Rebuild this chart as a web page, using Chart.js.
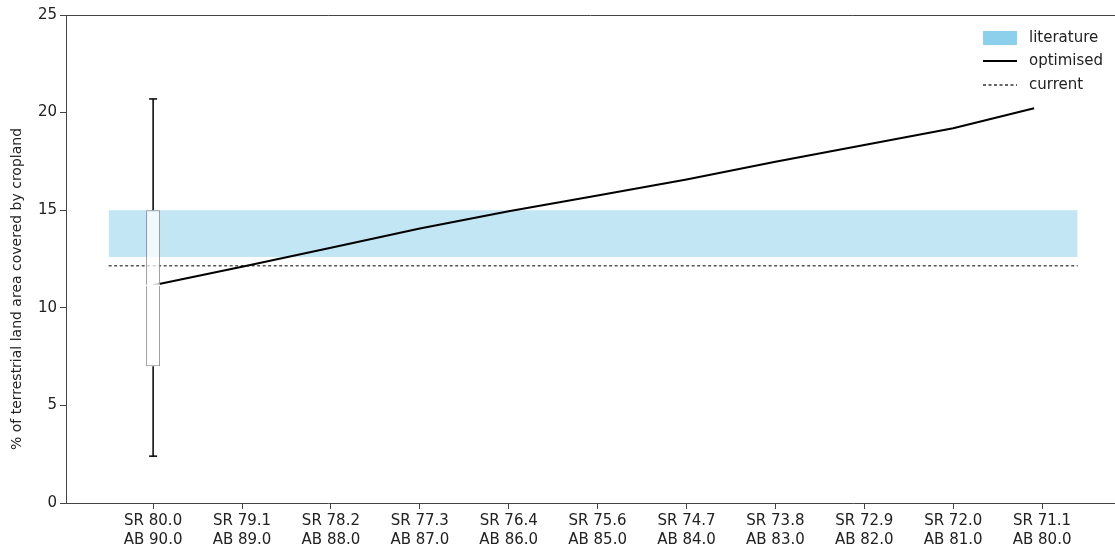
<!DOCTYPE html>
<html>
<head>
<meta charset="utf-8">
<script src="https://cdn.jsdelivr.net/npm/chart.js@4.4.1/dist/chart.umd.min.js"></script>
<style>
  html, body { margin: 0; padding: 0; background: #fff; }
  #wrap { width: 1115px; height: 552px; }
</style>
</head>
<body>
<div id="wrap"><canvas id="chart" width="1115" height="552"></canvas></div>
<script>
// x tick labels (two lines each)
var srLabels = ['SR 80.0', 'SR 79.1', 'SR 78.2', 'SR 77.3', 'SR 76.4', 'SR 75.6',
                'SR 74.7', 'SR 73.8', 'SR 72.9', 'SR 72.0', 'SR 71.1'];
var abLabels = ['AB 90.0', 'AB 89.0', 'AB 88.0', 'AB 87.0', 'AB 86.0', 'AB 85.0',
                'AB 84.0', 'AB 83.0', 'AB 82.0', 'AB 81.0', 'AB 80.0'];

// optimised scenario (x position, % cropland)
var optimisedX = [0, 1, 2, 3, 4, 5, 6, 7, 8, 9, 9.91];
var optimisedY = [11.15, 12.1, 13.08, 14.06, 14.95, 15.75, 16.57, 17.48, 18.34, 19.2, 20.22];

// literature range and current value
var literatureLow = 12.6;
var literatureHigh = 15.0;
var currentValue = 12.15;
var spanX = [-0.5, 10.4];

// box plot at first scenario
var boxX = 0;
var boxMin = 2.4;
var boxQ1 = 7.0;
var boxMedian = 11.15;
var boxQ3 = 15.0;
var boxMax = 20.7;

var legendLabels = ['literature', 'optimised', 'current'];
var yTitle = '% of terrestrial land area covered by cropland';

var FONT = "'DejaVu Sans', sans-serif";
var AXIS_COLOR = '#444';
var TEXT_COLOR = '#222';

function pts(xs, ys) {
    var out = [];
    for (var i = 0; i < xs.length; i++) out.push({x: xs[i], y: ys[i]});
    return out;
}

var extras = {
    id: 'extras',
    afterDraw: function (chart) {
        var ctx = chart.ctx, a = chart.chartArea;
        ctx.save();
        // top spine
        ctx.strokeStyle = AXIS_COLOR;
        ctx.lineWidth = 1;
        ctx.beginPath();
        ctx.moveTo(a.left, a.top + 0.5);
        ctx.lineTo(a.right, a.top + 0.5);
        ctx.stroke();

        // y axis title
        ctx.save();
        ctx.translate(17, 289);
        ctx.rotate(-Math.PI / 2);
        ctx.fillStyle = TEXT_COLOR;
        ctx.font = '14px ' + FONT;
        ctx.textAlign = 'center';
        ctx.textBaseline = 'middle';
        ctx.fillText(yTitle, 0, 0);
        ctx.restore();

        // legend inside the plot
        var x0 = 983, x1 = 1017, tx = 1029;
        var rows = [38, 61, 85];
        ctx.fillStyle = 'rgba(135,206,235,0.95)';
        ctx.fillRect(x0, rows[0] - 7, x1 - x0, 14);
        ctx.strokeStyle = '#000';
        ctx.lineWidth = 2;
        ctx.beginPath();
        ctx.moveTo(x0, rows[1]);
        ctx.lineTo(x1, rows[1]);
        ctx.stroke();
        ctx.strokeStyle = '#333';
        ctx.lineWidth = 1.5;
        ctx.setLineDash([3, 2.5]);
        ctx.beginPath();
        ctx.moveTo(x0, rows[2]);
        ctx.lineTo(x1, rows[2]);
        ctx.stroke();
        ctx.setLineDash([]);
        ctx.fillStyle = TEXT_COLOR;
        ctx.font = '15px ' + FONT;
        ctx.textBaseline = 'middle';
        ctx.textAlign = 'left';
        for (var i = 0; i < legendLabels.length; i++) {
            ctx.fillText(legendLabels[i], tx, rows[i]);
        }
        ctx.restore();
    }
};

var ctx = document.getElementById('chart');
new Chart(ctx, {
    type: 'scatter',
    data: {
        datasets: [
            {   // median
                type: 'scatter',
                data: [{x: boxX, y: boxMedian}],
                pointStyle: 'line',
                pointRadius: 7,
                borderColor: '#fff',
                backgroundColor: '#fff',
                borderWidth: 1.5,
                order: 0
            },
            {   // box
                type: 'bar',
                data: [{x: boxX, y: [boxQ1, boxQ3]}],
                backgroundColor: 'rgba(255,255,255,0.75)',
                borderColor: '#8a8a8a',
                borderWidth: 1,
                borderSkipped: false,
                grouped: false,
                maxBarThickness: 14,
                order: 1
            },
            {   // whiskers
                type: 'line',
                data: [{x: boxX, y: boxMin}, {x: boxX, y: boxQ1}, {x: boxX, y: null},
                       {x: boxX, y: boxQ3}, {x: boxX, y: boxMax}],
                borderColor: '#000',
                borderWidth: 1.5,
                pointRadius: 0,
                spanGaps: false,
                fill: false,
                order: 2
            },
            {   // caps
                type: 'scatter',
                data: [{x: boxX, y: boxMin}, {x: boxX, y: boxMax}],
                pointStyle: 'line',
                pointRadius: 4,
                borderColor: '#000',
                borderWidth: 1.5,
                order: 2
            },
            {
                type: 'line',
                label: 'optimised',
                data: pts(optimisedX, optimisedY),
                borderColor: '#000',
                borderWidth: 2,
                pointRadius: 0,
                tension: 0,
                fill: false,
                order: 3
            },
            {
                type: 'line',
                label: 'current',
                data: pts(spanX, [currentValue, currentValue]),
                borderColor: '#555',
                borderWidth: 1.5,
                borderDash: [3, 2.5],
                pointRadius: 0,
                fill: false,
                order: 4
            },
            {
                type: 'line',
                label: 'literature',
                data: pts(spanX, [literatureHigh, literatureHigh]),
                borderWidth: 0,
                borderColor: 'rgba(0,0,0,0)',
                backgroundColor: 'rgba(135,206,235,0.5)',
                pointRadius: 0,
                fill: '+1',
                order: 5
            },
            {
                type: 'line',
                data: pts(spanX, [literatureLow, literatureLow]),
                borderWidth: 0,
                borderColor: 'rgba(0,0,0,0)',
                pointRadius: 0,
                fill: false,
                order: 6
            }
        ]
    },
    options: {
        responsive: false,
        animation: false,
        layout: { autoPadding: false, padding: { top: 15, right: 0, left: 0, bottom: 0 } },
        plugins: {
            legend: { display: false },
            tooltip: { enabled: false }
        },
        scales: {
            x: {
                type: 'linear',
                min: -0.98,
                max: 10.82,
                offset: false,
                afterBuildTicks: function (scale) {
                    scale.ticks = srLabels.map(function (s, i) { return {value: i}; });
                },
                afterFit: function (scale) { scale.height = 49; },
                ticks: {
                    autoSkip: false,
                    maxRotation: 0,
                    padding: 2,
                    color: TEXT_COLOR,
                    font: { family: FONT, size: 15, lineHeight: 1.3 },
                    callback: function (v) {
                        var i = Math.round(v);
                        return [srLabels[i], abLabels[i]];
                    }
                },
                grid: { offset: false, drawOnChartArea: false, drawTicks: true, tickLength: 6, tickColor: AXIS_COLOR },
                border: { color: AXIS_COLOR, width: 1 }
            },
            y: {
                min: 0,
                max: 25,
                afterFit: function (scale) { scale.width = 66; },
                ticks: {
                    stepSize: 5,
                    padding: 3,
                    color: TEXT_COLOR,
                    font: { family: FONT, size: 15 }
                },
                grid: { drawOnChartArea: false, drawTicks: true, tickLength: 6, tickColor: AXIS_COLOR },
                border: { color: AXIS_COLOR, width: 1 }
            }
        }
    },
    plugins: [extras]
});
</script>
</body>
</html>
